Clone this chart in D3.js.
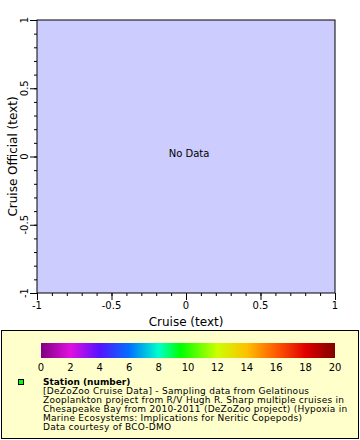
<!DOCTYPE html>
<html>
<head>
<meta charset="utf-8">
<script src="https://cdn.jsdelivr.net/npm/d3@7"></script>
<style>
  body { margin: 0; background: #fff; }
  svg { display: block; font-family: "DejaVu Sans", sans-serif; }
</style>
</head>
<body>
<div id="chart"></div>
<script>
// axis ranges (no data points - empty plot)
var xDomain = [-1, 1];
var yDomain = [-1, 1];
var majorTicks = [-1, -0.5, 0, 0.5, 1];
var tickLabels = ['-1', '-0.5', '0', '0.5', '1'];

// colour bar
var colorTicks = [0, 2, 4, 6, 8, 10, 12, 14, 16, 18, 20];
var colorStops = [0, 2, 4, 6, 8, 9.5, 12, 14, 16, 18, 20];
var colorValues = ['#800080', '#e010e0', '#5512ff', '#0070ff', '#00ffcc', '#00ff00',
                   '#ccff00', '#ffc000', '#ff5a00', '#e00000', '#800000'];

var legendLines = [
  '[DeZoZoo Cruise Data] - Sampling data from Gelatinous',
  'Zooplankton project from R/V Hugh R. Sharp multiple cruises in',
  'Chesapeake Bay from 2010-2011 (DeZoZoo project) (Hypoxia in',
  'Marine Ecosystems: Implications for Neritic Copepods)',
  'Data courtesy of BCO-DMO'
];

var width = 360, height = 440;
var plot = {left: 37, top: 20, right: 335, bottom: 293};

var svg = d3.select('#chart').append('svg')
  .attr('width', width)
  .attr('height', height);

var x = d3.scaleLinear().domain(xDomain).range([plot.left, plot.right]);
var y = d3.scaleLinear().domain(yDomain).range([plot.bottom, plot.top]);

// plot background
svg.append('rect')
  .attr('x', plot.left).attr('y', plot.top)
  .attr('width', plot.right - plot.left).attr('height', plot.bottom - plot.top)
  .attr('fill', '#ccccff')
  .attr('stroke', '#000').attr('stroke-width', 1);

svg.append('text')
  .attr('x', x(0) + 3).attr('y', y(0) - 3)
  .attr('text-anchor', 'middle').attr('dy', '0.35em')
  .attr('font-size', 10)
  .text('No Data');

var minor = d3.range(-1, 1.0001, 0.1);

// x axis
var xAxis = svg.append('g').attr('transform', 'translate(0,' + plot.bottom + ')');
xAxis.selectAll('line.minor').data(minor).enter().append('line')
  .attr('x1', function(d){ return x(d) + 0.5 }).attr('x2', function(d){ return x(d) + 0.5 })
  .attr('y1', 0).attr('y2', 3)
  .attr('stroke', '#000');
xAxis.selectAll('line.major').data(majorTicks).enter().append('line')
  .attr('x1', function(d){ return x(d) + 0.5 }).attr('x2', function(d){ return x(d) + 0.5 })
  .attr('y1', 0).attr('y2', 7)
  .attr('stroke', '#000');
xAxis.selectAll('text').data(majorTicks).enter().append('text')
  .attr('x', function(d){ return x(d) }).attr('y', 16)
  .attr('text-anchor', 'middle')
  .attr('font-size', 10)
  .text(function(d, i){ return tickLabels[i] });

// y axis
var yAxis = svg.append('g').attr('transform', 'translate(' + plot.left + ',0)');
yAxis.selectAll('line.minor').data(minor).enter().append('line')
  .attr('y1', function(d){ return y(d) + 0.5 }).attr('y2', function(d){ return y(d) + 0.5 })
  .attr('x1', 0).attr('x2', -3)
  .attr('stroke', '#000');
yAxis.selectAll('line.major').data(majorTicks).enter().append('line')
  .attr('y1', function(d){ return y(d) + 0.5 }).attr('y2', function(d){ return y(d) + 0.5 })
  .attr('x1', 0).attr('x2', -7)
  .attr('stroke', '#000');
yAxis.selectAll('text').data(majorTicks).enter().append('text')
  .attr('transform', function(d){ return 'translate(-9,' + y(d) + ') rotate(-90)' })
  .attr('text-anchor', 'middle')
  .attr('font-size', 10)
  .text(function(d, i){ return tickLabels[i] });

// axis titles
svg.append('text')
  .attr('x', (plot.left + plot.right) / 2).attr('y', 326)
  .attr('text-anchor', 'middle').attr('font-size', 12)
  .text('Cruise (text)');
svg.append('text')
  .attr('transform', 'translate(17,' + (plot.top + plot.bottom) / 2 + ') rotate(-90)')
  .attr('text-anchor', 'middle').attr('font-size', 12)
  .text('Cruise Official (text)');

// legend box
svg.append('rect')
  .attr('x', 1.5).attr('y', 330.5).attr('width', 357).attr('height', 108)
  .attr('fill', '#ffffcc').attr('stroke', '#000');

var c = d3.scaleLinear().domain([0, 20]).range([41, 335]);
var grad = svg.append('defs').append('linearGradient').attr('id', 'cbar');
grad.selectAll('stop').data(colorStops).enter().append('stop')
  .attr('offset', function(d){ return (d / 20 * 100) + '%' })
  .attr('stop-color', function(d, i){ return colorValues[i] });
svg.append('rect')
  .attr('x', c(0)).attr('y', 343).attr('width', c(20) - c(0)).attr('height', 15)
  .attr('fill', 'url(#cbar)');
svg.selectAll('text.ctick').data(colorTicks).enter().append('text')
  .attr('class', 'ctick')
  .attr('x', function(d){ return c(d) }).attr('y', 371)
  .attr('text-anchor', 'middle').attr('font-size', 10)
  .text(function(d){ return d });

// station marker and text
svg.append('rect')
  .attr('x', 18.5).attr('y', 379.5).attr('width', 5).attr('height', 5)
  .attr('fill', '#00ff00').attr('stroke', '#000');
svg.append('text')
  .attr('x', 43).attr('y', 385)
  .attr('font-size', 9).attr('font-weight', 'bold')
  .text('Station (number)');
svg.selectAll('text.leg').data(legendLines).enter().append('text')
  .attr('class', 'leg')
  .attr('x', 43).attr('y', function(d, i){ return 394 + i * 9.1 })
  .attr('font-size', 9).attr('letter-spacing', 0.25)
  .text(function(d){ return d });
</script>
</body>
</html>
